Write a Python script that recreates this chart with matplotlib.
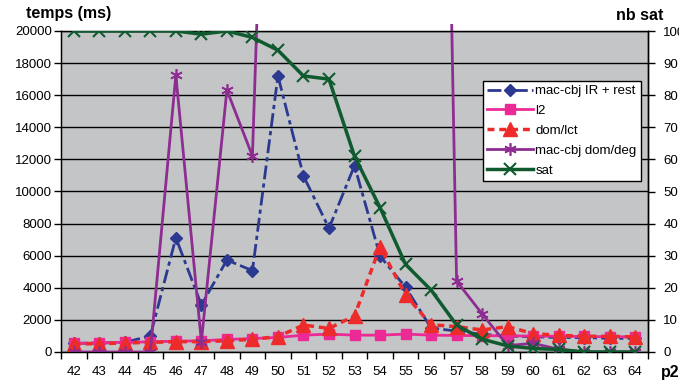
import matplotlib
matplotlib.use("Agg")
import matplotlib.pyplot as plt
from matplotlib.patches import Rectangle

plt.rcParams["font.family"] = ["Liberation Sans", "DejaVu Sans"]
plt.rcParams["lines.scale_dashes"] = False

# p2 values on the category axis
p2 = list(range(42, 65))

# run times (ms), left axis
ir_rest = [540, 560, 600, 1000, 7120, 2930, 5730, 5070, 17200, 10970, 7710, 11610,
           5980, 4030, 1500, 1300, 1100, 1000, 950, 900, 900, 850, 850]
l2 = [530, 570, 610, 630, 675, 695, 780, 840, 905, 1050, 1115, 1050,
      1050, 1115, 1050, 1030, 1020, 1010, 990, 980, 970, 950, 950]
dom_lct = [500, 520, 560, 600, 640, 650, 700, 790, 960, 1680, 1470, 2250,
           6560, 3550, 1700, 1580, 1375, 1580, 1150, 1040, 980, 980, 940]
# off-scale between 50 and 56
dom_deg = [0, 0, 0, 0, 17260, 640, 16320, 12210, 60000, 70000, 70000, 70000,
           70000, 70000, 88000, 4420, 2375, 400, 540, 170, 0, 0, 0]

# number of satisfiable instances, right axis
sat = [100, 100, 100, 100, 100, 99, 100, 98, 94, 86, 85, 61,
       45, 27.3, 19.3, 8.4, 4, 1.9, 1.1, 0.8, 0, 0, 0]

x = list(range(len(p2)))

fig = plt.figure(figsize=(6.79, 3.83), dpi=100)
ax = fig.add_axes([61 / 679, 1 - 352 / 383, 587 / 679, 321 / 383])
ax.set_facecolor("#c4c5c7")

ax.plot(x, ir_rest, color="#2b3990", lw=2, dashes=(10, 3, 3, 3),
        marker="D", ms=6.5, label="mac-cbj IR + rest", zorder=3)
ax.plot(x, l2, color="#ec2a95", lw=2, marker="s", ms=7,
        label="l2", zorder=4)
ax.plot(x, dom_lct, color="#ee2b2b", lw=2.5, dashes=(5, 3.5),
        marker="^", ms=9.5, label="dom/lct", zorder=5)
deg_line, = ax.plot(x, dom_deg, color="#8e2d91", lw=2, marker=(6, 2, 0), ms=9,
                    mew=1.2, label="mac-cbj dom/deg", zorder=6)
# let the off-scale line run a little past the top of the plot area
clip = Rectangle((0, 0), 1, 1.022, transform=ax.transAxes)
deg_line.set_clip_path(clip)

ax.set_xlim(-0.5, len(p2) - 0.5)
ax.set_ylim(0, 20000)
ax.set_yticks(range(0, 20001, 2000))
ax.yaxis.grid(True, color="black", lw=1)
ax.set_axisbelow(True)
ax.set_xticks(x)
ax.set_xticklabels([str(v) for v in p2])
ax.set_xticks([i - 0.5 for i in range(len(p2) + 1)], minor=True)
ax.tick_params(axis="x", which="major", length=0, pad=10, labelsize=9.5)
ax.tick_params(axis="x", which="minor", length=5, width=1, direction="out")
ax.tick_params(axis="y", length=5, width=1, pad=1.5, labelsize=9.5)
for s in ax.spines.values():
    s.set_color("black")
    s.set_linewidth(1)

ax2 = ax.twinx()
ax2.plot(x, sat, color="#0f5b2f", lw=2.5, marker="x", ms=8, mew=1.5,
         label="sat", zorder=3)
ax2.set_ylim(0, 100)
ax2.set_yticks(range(0, 101, 10))
ax2.tick_params(axis="y", length=5, width=1, pad=6, labelsize=9.5)
ax2.spines["right"].set_linewidth(1)

h1, l1 = ax.get_legend_handles_labels()
h2, lb2 = ax2.get_legend_handles_labels()
leg = ax2.legend(h1 + h2, l1 + lb2, loc="upper left", bbox_to_anchor=(0.719, 0.845),
                 borderaxespad=0, fontsize=9.5, frameon=True, fancybox=False,
                 handlelength=3.5, handletextpad=0.15, labelspacing=0.58,
                 borderpad=0.32)
leg.get_frame().set_edgecolor("black")
leg.get_frame().set_linewidth(1)
leg.get_frame().set_facecolor("white")
leg.get_frame().set_alpha(1)

fig.text(69 / 679, 1 - 13.5 / 383, "temps (ms)", ha="center", va="center",
         fontsize=11.5, fontweight="bold")
fig.text(640 / 679, 1 - 15 / 383, "nb sat", ha="center", va="center",
         fontsize=11.5, fontweight="bold")
fig.text(670 / 679, 1 - 373 / 383, "p2", ha="center", va="center",
         fontsize=11.5, fontweight="bold")

fig.savefig("out.png", dpi=100)
